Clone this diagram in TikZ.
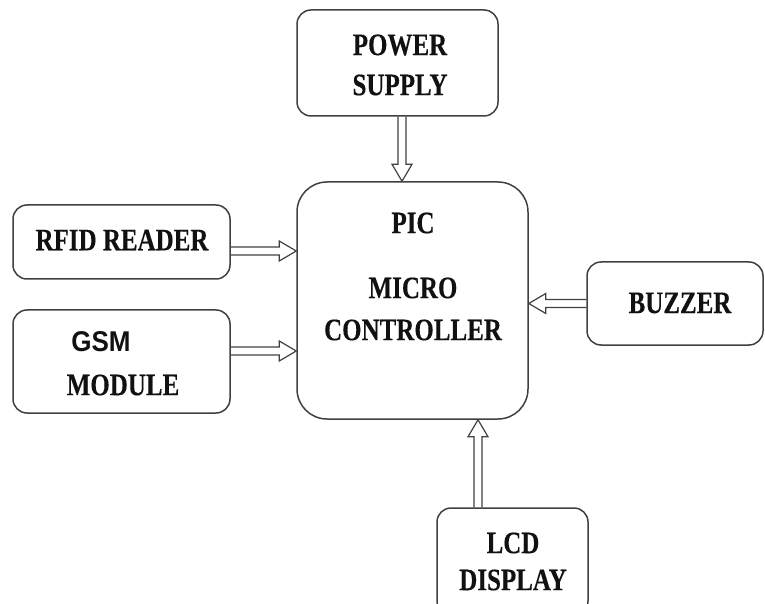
\documentclass[tikz,border=0pt]{standalone}
\usepackage{fontspec}
\setmainfont{Liberation Serif}[BoldFeatures={FakeBold=0.3}]
\newfontfamily\gsmfont{Liberation Sans}
\usetikzlibrary{calc}
\definecolor{edge}{HTML}{404040}
\definecolor{ink}{HTML}{111111}
% vertically stretched caption text
\newcommand\tall[1]{\scalebox{1}[1.25]{#1}}

\begin{document}
\begin{tikzpicture}[x=1pt,y=1pt,
  blk/.style={draw=edge, line width=1.5pt, rounded corners=14pt, inner sep=0pt},
  txt/.style={text=ink, inner sep=0pt, font=\fontsize{25}{30}\selectfont\bfseries},
  hollow/.style={draw=edge, line width=1.2pt, line join=miter,
    to path={let \p1=(\tikztostart), \p2=(\tikztotarget),
      \n1={atan2(\y2-\y1,\x2-\x1)}, \n2={veclen(\x2-\x1,\y2-\y1)} in
      {[shift={(\p1)}, rotate=\n1]
        (0,-4) -- ({\n2-17},-4) -- ({\n2-17},-10) -- (\n2,0)
        -- ({\n2-17},10) -- ({\n2-17},4) -- (0,4)} \tikztonodes}}]

\useasboundingbox (0,0) rectangle (765,603);
\clip (0,0) rectangle (765,603);

% blocks
\node[blk, minimum width=201pt, minimum height=106pt] (pwr) at (397.5,540) {};
\node[blk, minimum width=231pt, minimum height=237pt, rounded corners=30pt] (mc) at (412.5,302.5) {};
\node[blk, minimum width=217pt, minimum height=74pt] (rfid) at (121.5,361) {};
\node[blk, minimum width=217pt, minimum height=103pt] (gsm) at (121.5,241.5) {};
\node[blk, minimum width=176pt, minimum height=83pt] (buz) at (675,299.5) {};
\node[blk, minimum width=151pt, minimum height=107pt] (lcd) at (512.5,41.5) {};

% captions
\node[txt] (t1) at (400,558) {\tall{POWER}};
\node[txt] (t2) at (400,518) {\tall{SUPPLY}};
\node[txt] (t3) at (122,363) {\tall{RFID READER}};
\node[txt, font=\gsmfont\fontsize{26}{30}\selectfont\bfseries] (t4) at (101,261) {\scalebox{1}[1.1]{GSM}};
\node[txt] (t5) at (123,218) {\tall{MODULE}};
\node[txt] (t6) at (413,380) {\tall{PIC}};
\node[txt] (t7) at (413,315) {\tall{MICRO}};
\node[txt] (t8) at (413,273) {\tall{CONTROLLER}};
\node[txt] (t9) at (680,300) {\tall{BUZZER}};
\node[txt] (t10) at (513,60) {\tall{LCD}};
\node[txt] (t11) at (513,23) {\tall{DISPLAY}};

% hollow double-line arrows
\draw[hollow] ([xshift=4.5pt]pwr.south) to ([xshift=4.5pt]pwr.south |- mc.north);
\draw[hollow] ([yshift=-9pt]rfid.east) to ([yshift=-9pt]rfid.east -| mc.west);
\draw[hollow] ([yshift=10.5pt]gsm.east) to ([yshift=10.5pt]gsm.east -| mc.west);
\draw[hollow] (buz.west) to (buz.west -| mc.east);
\draw[hollow] ([xshift=-34.5pt]lcd.north) to ([xshift=-34.5pt]lcd.north |- mc.south);
\end{tikzpicture}
\end{document}
